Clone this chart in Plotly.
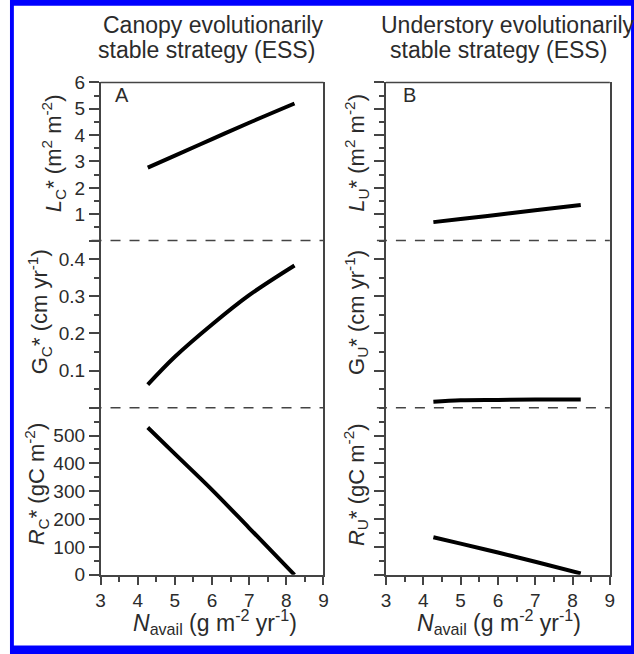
import plotly.graph_objects as go

# ---------------- data ----------------
N_avail = [4.27, 5.0, 6.0, 7.0, 8.22]
L_C = [2.77, 3.22, 3.85, 4.47, 5.20]
G_C = [0.062, 0.137, 0.224, 0.303, 0.383]
R_C = [529, 434, 305, 168, 0]
L_U = [0.70, 0.82, 0.98, 1.15, 1.35]
G_U = [0.016, 0.020, 0.021, 0.022, 0.022]
R_U = [135, 112, 80, 47, 5]

x_ticks = [3, 4, 5, 6, 7, 8, 9]
L_ticks = [0, 1, 2, 3, 4, 5, 6]
L_text = ["", "1", "2", "3", "4", "5", "6"]
G_ticks = [0, 0.1, 0.2, 0.3, 0.4]
G_text = ["", "0.1", "0.2", "0.3", "0.4"]
R_ticks = [0, 100, 200, 300, 400, 500, 600]
R_text = ["0", "100", "200", "300", "400", "500", ""]

col_titles = [["Canopy evolutionarily", "stable strategy (ESS)"],
              ["Understory evolutionarily", "stable strategy (ESS)"]]
panel_letters = ["A", "B"]
y_titles = [
    ["<i>L</i><sub>C</sub>* (m<sup>2</sup> m<sup>-2</sup>)",
     "G<sub>C</sub>* (cm yr<sup>-1</sup>)",
     "<i>R</i><sub>C</sub>* (gC m<sup>-2</sup>)"],
    ["<i>L</i><sub>U</sub>* (m<sup>2</sup> m<sup>-2</sup>)",
     "G<sub>U</sub>* (cm yr<sup>-1</sup>)",
     "<i>R</i><sub>U</sub>* (gC m<sup>-2</sup>)"],
]
x_title = "<i>N</i><sub>avail</sub> (g m<sup>-2</sup> yr<sup>-1</sup>)"

# ---------------- layout geometry ----------------
W, H = 634, 654
FONT = "Liberation Sans, Arial, sans-serif"
TXT = "#2b2b2b"
AX = "#444444"

# the photographed page shows the figure slightly shrunk and offset;
# positions below are target screen pixels, mapped back to paper fractions
SX, OX = 0.976, 7.2
SY, OY = 0.973, 8.2

def px(x):
    return ((x - OX) / SX) / W

def py(y):
    return 1 - ((y - OY) / SY) / H

col_px = [(102, 323), (385, 607)]
row_px = [(81, 240), (240, 408), (408, 576)]
row_ranges = [[0, 6], [0, 0.45], [0, 600]]
row_ticks = [(L_ticks, L_text, 0.5), (G_ticks, G_text, 0.05), (R_ticks, R_text, 50)]

series = [[L_C, G_C, R_C], [L_U, G_U, R_U]]

fig = go.Figure()
layout = dict(
    width=W, height=H, autosize=False,
    margin=dict(l=0, r=0, t=0, b=0, pad=0),
    paper_bgcolor="white", plot_bgcolor="rgba(0,0,0,0)",
    showlegend=False,
    font=dict(family=FONT, color=TXT, size=18),
)

annotations = []
shapes = []

# blue frame
shapes.append(dict(type="rect", xref="paper", yref="paper", layer="below",
                   x0=px(12), x1=px(645), y0=py(665), y1=py(-12),
                   fillcolor="#0000ff", line=dict(width=0)))
shapes.append(dict(type="rect", xref="paper", yref="paper", layer="below",
                   x0=px(16), x1=px(628), y0=py(647), y1=py(4),
                   fillcolor="white", line=dict(width=0)))
# white strip left of the frame
shapes.append(dict(type="rect", xref="paper", yref="paper", layer="below",
                   x0=px(-12), x1=px(12), y0=py(665), y1=py(-12),
                   fillcolor="white", line=dict(width=0)))

for c in range(2):
    for r in range(3):
        k = r * 2 + c + 1
        xa = "xaxis" if k == 1 else f"xaxis{k}"
        ya = "yaxis" if k == 1 else f"yaxis{k}"
        xs = "x" if k == 1 else f"x{k}"
        ys = "y" if k == 1 else f"y{k}"
        bottom = (r == 2)
        xax = dict(domain=[px(col_px[c][0]), px(col_px[c][1])], range=[3, 9],
                   anchor=ys, showgrid=False, zeroline=False)
        if bottom:
            xax.update(showline=True, linecolor=AX, linewidth=1.5,
                       ticks="outside", ticklen=8, tickwidth=1.5, tickcolor=AX,
                       tickvals=x_ticks, tickfont=dict(size=19, color=TXT, family=FONT),
                       minor=dict(ticks="outside", ticklen=5, tickwidth=1.5,
                                  tickcolor=AX, dtick=0.5, tick0=3))
        else:
            xax.update(visible=False)
        tv, tt, md = row_ticks[r]
        yax = dict(domain=[py(row_px[r][1]), py(row_px[r][0])], range=row_ranges[r],
                   anchor=xs, showgrid=False, zeroline=False,
                   showline=True, mirror=True, linecolor=AX, linewidth=1.5,
                   ticks="outside", ticklen=10, tickwidth=1.5, tickcolor=AX,
                   tickvals=tv, ticktext=tt, showticklabels=(c == 0),
                   tickfont=dict(size=19, color=TXT, family=FONT),
                   minor=dict(ticks="outside", ticklen=5, tickwidth=1.5,
                              tickcolor=AX, dtick=md, tick0=0))
        layout[xa] = xax
        layout[ya] = yax

        fig.add_trace(go.Scatter(x=N_avail, y=series[c][r], xaxis=xs, yaxis=ys,
                                 mode="lines",
                                 line=dict(color="black", width=4, shape="spline",
                                           smoothing=1.0),
                                 hoverinfo="skip"))

    # top solid line of panel
    shapes.append(dict(type="line", xref="paper", yref="paper",
                       x0=px(col_px[c][0]), x1=px(col_px[c][1]),
                       y0=py(81), y1=py(81), line=dict(color=AX, width=1.5)))
    # dashed separators
    for yy in (240, 408):
        shapes.append(dict(type="line", xref="paper", yref="paper",
                           x0=px(col_px[c][0] - 9), x1=px(col_px[c][1]),
                           y0=py(yy), y1=py(yy),
                           line=dict(color=AX, width=1.5, dash="10px,9px")))

# column titles
title_pos = [[(213.5, 23), (207.5, 48)], [(506, 23), (497, 48)]]
for c in range(2):
    for i in range(2):
        x, y = title_pos[c][i]
        annotations.append(dict(text=col_titles[c][i], xref="paper", yref="paper",
                                x=px(x), y=py(y), xanchor="center", yanchor="middle",
                                showarrow=False, font=dict(size=23, color=TXT, family=FONT)))

# panel letters
for c, xx in enumerate([123, 408]):
    annotations.append(dict(text=panel_letters[c], xref="paper", yref="paper",
                            x=px(xx), y=py(94), xanchor="center", yanchor="middle",
                            showarrow=False, font=dict(size=20, color=TXT, family=FONT)))

# y titles
yt_x = [[55, 41, 38], [355, 355, 355]]
yt_y = [152, 312, 485]
for c in range(2):
    for r in range(3):
        annotations.append(dict(text=y_titles[c][r], xref="paper", yref="paper",
                                x=px(yt_x[c][r]), y=py(yt_y[r]), xanchor="center",
                                yanchor="middle", textangle=-90, showarrow=False,
                                font=dict(size=22, color=TXT, family=FONT)))

# x titles
for xx in (215, 497):
    annotations.append(dict(text=x_title, xref="paper", yref="paper",
                            x=px(xx), y=py(623), xanchor="center", yanchor="middle",
                            showarrow=False, font=dict(size=23, color=TXT, family=FONT)))

layout["annotations"] = annotations
layout["shapes"] = shapes
fig.update_layout(**layout)

css_fix = (
    "document.documentElement.style.margin='0';"
    "document.documentElement.style.padding='0';"
    "document.documentElement.style.overflow='hidden';"
    "document.body.style.margin='0';"
    "document.body.style.padding='0';"
    "document.body.style.overflow='hidden';"
)
fig.write_html(
    "out.html",
    config={"displayModeBar": False},
    post_script=css_fix,
)
